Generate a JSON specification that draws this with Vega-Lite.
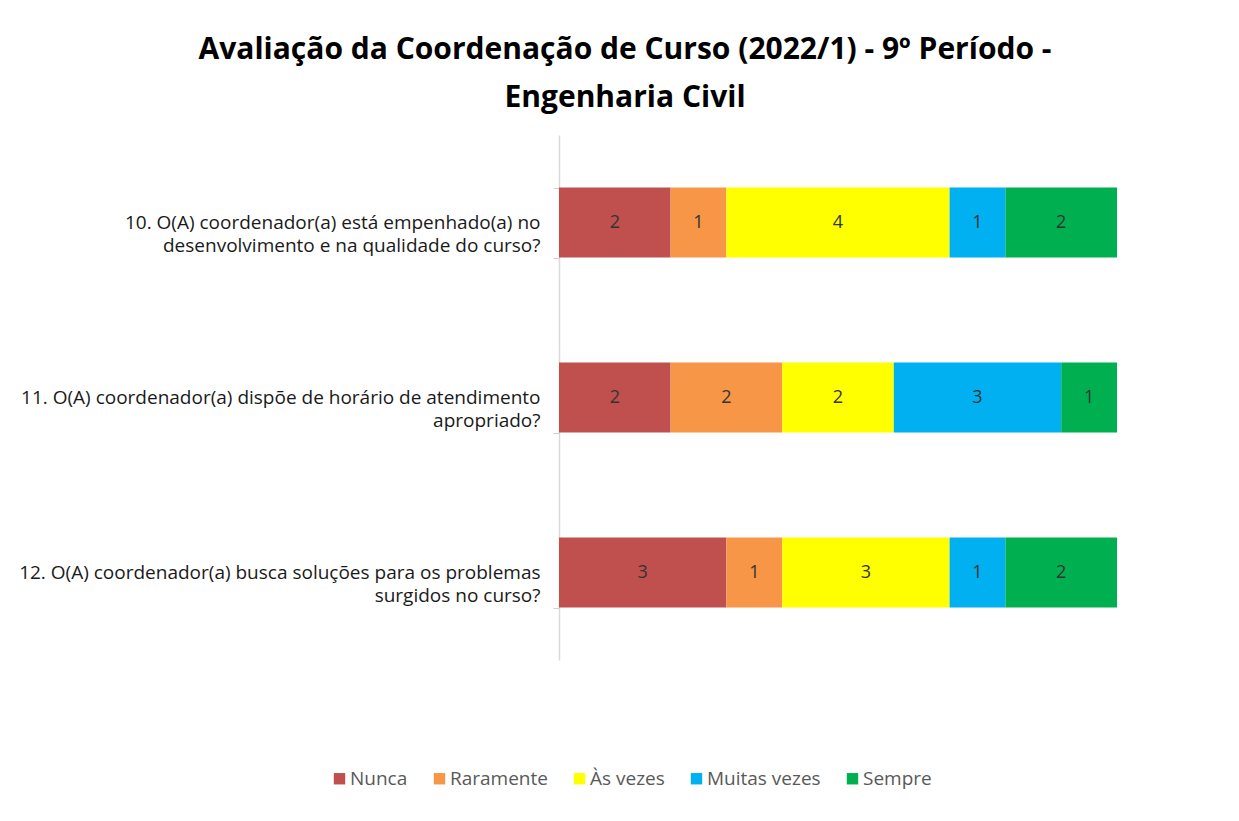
{
  "$schema": "https://vega.github.io/schema/vega-lite/v6.json",
  "width": 558,
  "height": 525,
  "autosize": {"type": "none"},
  "padding": {"left": 559, "top": 135, "right": 122, "bottom": 161},
  "background": "white",
  "title": {
    "text": ["Avaliação da Coordenação de Curso (2022/1) - 9º Período -", "Engenharia Civil"],
    "font": "Open Sans",
    "fontSize": 30,
    "fontWeight": "bold",
    "color": "#000000",
    "lineHeight": 48,
    "anchor": "middle",
    "frame": "group",
    "dx": -213,
    "offset": 13
  },
  "config": {
    "view": {"stroke": null},
    "font": "Open Sans"
  },
  "data": {
    "values": [
      {"pergunta": "10. O(A) coordenador(a) está empenhado(a) no|desenvolvimento e na qualidade do curso?", "resposta": "Nunca", "ordem": 1, "n": 2},
      {"pergunta": "10. O(A) coordenador(a) está empenhado(a) no|desenvolvimento e na qualidade do curso?", "resposta": "Raramente", "ordem": 2, "n": 1},
      {"pergunta": "10. O(A) coordenador(a) está empenhado(a) no|desenvolvimento e na qualidade do curso?", "resposta": "Às vezes", "ordem": 3, "n": 4},
      {"pergunta": "10. O(A) coordenador(a) está empenhado(a) no|desenvolvimento e na qualidade do curso?", "resposta": "Muitas vezes", "ordem": 4, "n": 1},
      {"pergunta": "10. O(A) coordenador(a) está empenhado(a) no|desenvolvimento e na qualidade do curso?", "resposta": "Sempre", "ordem": 5, "n": 2},
      {"pergunta": "11. O(A) coordenador(a) dispõe de horário de atendimento|apropriado?", "resposta": "Nunca", "ordem": 1, "n": 2},
      {"pergunta": "11. O(A) coordenador(a) dispõe de horário de atendimento|apropriado?", "resposta": "Raramente", "ordem": 2, "n": 2},
      {"pergunta": "11. O(A) coordenador(a) dispõe de horário de atendimento|apropriado?", "resposta": "Às vezes", "ordem": 3, "n": 2},
      {"pergunta": "11. O(A) coordenador(a) dispõe de horário de atendimento|apropriado?", "resposta": "Muitas vezes", "ordem": 4, "n": 3},
      {"pergunta": "11. O(A) coordenador(a) dispõe de horário de atendimento|apropriado?", "resposta": "Sempre", "ordem": 5, "n": 1},
      {"pergunta": "12. O(A) coordenador(a) busca soluções para os problemas|surgidos no curso?", "resposta": "Nunca", "ordem": 1, "n": 3},
      {"pergunta": "12. O(A) coordenador(a) busca soluções para os problemas|surgidos no curso?", "resposta": "Raramente", "ordem": 2, "n": 1},
      {"pergunta": "12. O(A) coordenador(a) busca soluções para os problemas|surgidos no curso?", "resposta": "Às vezes", "ordem": 3, "n": 3},
      {"pergunta": "12. O(A) coordenador(a) busca soluções para os problemas|surgidos no curso?", "resposta": "Muitas vezes", "ordem": 4, "n": 1},
      {"pergunta": "12. O(A) coordenador(a) busca soluções para os problemas|surgidos no curso?", "resposta": "Sempre", "ordem": 5, "n": 2}
    ]
  },
  "encoding": {
    "y": {
      "field": "pergunta",
      "type": "nominal",
      "sort": null,
      "title": null,
      "scale": {"paddingInner": 0.6, "paddingOuter": 0.3},
      "axis": {
        "labelExpr": "split(datum.label, '|')",
        "labelFont": "Open Sans",
        "labelFontSize": 19,
        "labelColor": "#1a1a1a",
        "labelLineHeight": 23,
        "labelAlign": "right",
        "labelPadding": 13,
        "labelLimit": 700,
        "tickBand": "extent",
        "tickSize": 6,
        "tickColor": "#D0D0D0",
        "domainColor": "#D9D9D9",
        "domainWidth": 1.5,
        "grid": false
      }
    },
    "x": {
      "field": "n",
      "type": "quantitative",
      "stack": "zero",
      "scale": {"domain": [0, 10], "nice": false},
      "axis": null
    },
    "order": {"field": "ordem", "type": "quantitative", "sort": "ascending"}
  },
  "layer": [
    {
      "mark": {"type": "bar"},
      "encoding": {
        "color": {
          "field": "resposta",
          "type": "nominal",
          "sort": ["Nunca", "Raramente", "Às vezes", "Muitas vezes", "Sempre"],
          "scale": {
            "domain": ["Nunca", "Raramente", "Às vezes", "Muitas vezes", "Sempre"],
            "range": ["#C0504D", "#F79646", "#FFFF00", "#00B0F0", "#00B050"]
          },
          "legend": {
            "title": null,
            "orient": "none",
            "direction": "horizontal",
            "legendX": -229,
            "legendY": 634,
            "symbolType": "square",
            "symbolSize": 130,
            "symbolStrokeWidth": 0,
            "labelFont": "Open Sans",
            "labelFontSize": 19,
            "labelColor": "#595959",
            "columnPadding": 22,
            "labelOffset": 1
          }
        }
      }
    },
    {
      "mark": {"type": "text", "font": "Open Sans", "fontSize": 18, "color": "#333333"},
      "encoding": {
        "x": {"field": "n", "type": "quantitative", "stack": "zero", "bandPosition": 0.5},
        "detail": {"field": "resposta", "type": "nominal"},
        "text": {"field": "n", "type": "quantitative"}
      }
    }
  ]
}
